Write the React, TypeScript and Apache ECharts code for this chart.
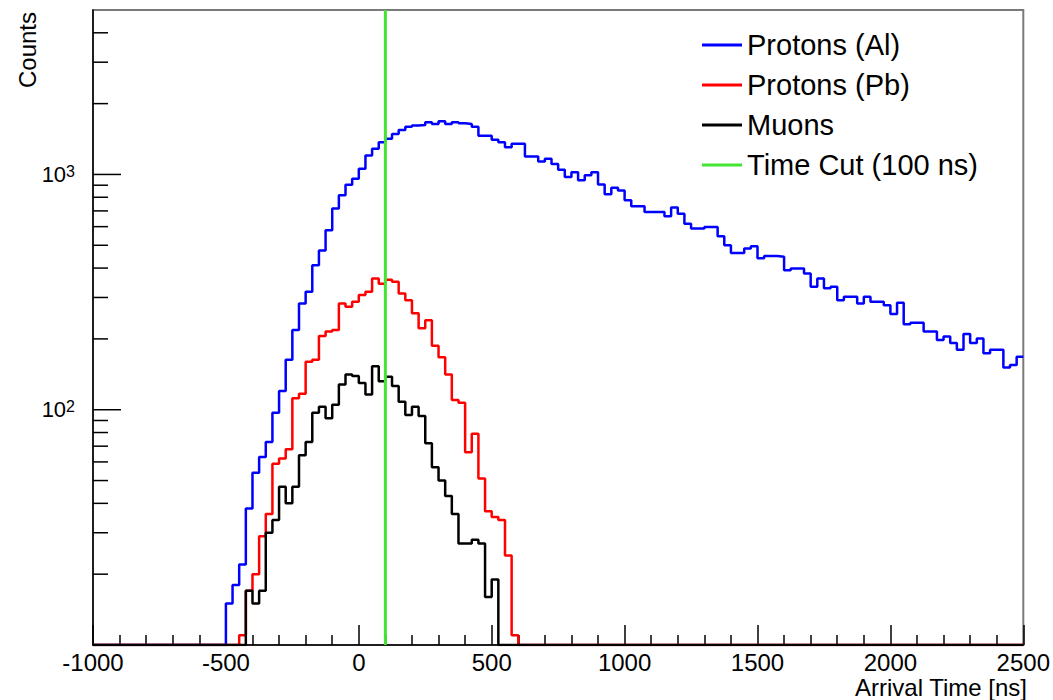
import React, { useEffect, useRef } from "react";
import * as echarts from "echarts";

const X_MIN = -1000;
const X_MAX = 2500;
const X_INTERVAL = 500;
const BIN_WIDTH = 25;
const Y_MIN = 10;
const Y_MAX = 5000;
const TIME_CUT = 100;

const FONT = "'Liberation Sans', Arial, Helvetica, sans-serif";

// Protons (Al): bins of 25 ns starting at -500 ns
const alStart = -500;
const alCounts = [
  15, 18, 22, 38, 54, 63, 73, 97, 120, 163,
  218, 283, 317, 411, 475, 579, 716, 815, 904, 959,
  1057, 1204, 1286, 1372, 1417, 1487, 1546, 1596, 1613, 1624,
  1667, 1640, 1684, 1640, 1667, 1650, 1640, 1596, 1462, 1462,
  1403, 1372, 1305, 1349, 1349, 1192, 1192, 1135, 1165, 1109,
  1047, 975, 1023, 944, 991, 1023, 907, 823, 879, 855,
  776, 732, 732, 692, 692, 692, 664, 723, 681, 618,
  589, 589, 598, 598, 546, 500, 464, 464, 484, 495,
  440, 450, 450, 447, 392, 398, 398, 379, 333, 361,
  328, 333, 292, 302, 302, 283, 302, 288, 288, 278,
  255, 285, 231, 234, 234, 215, 215, 198, 205, 192,
  180, 210, 192, 201, 174, 180, 180, 151, 155, 168,
];

// Protons (Pb): starting at -450 ns
const pbStart = -450;
const pbCounts = [
  11, 17, 20, 29, 36, 59, 62, 68, 112, 117,
  160, 163, 206, 215, 218, 283, 274, 288, 307, 317,
  361, 343, 357, 350, 312, 292, 257, 222, 240, 187,
  167, 141, 110, 107, 66, 79, 51, 37, 35, 34,
  24, 11,
];

// Muons: starting at -425 ns
const muStart = -425;
const muCounts = [
  17, 15, 17, 30, 34, 47, 40, 47, 64, 73,
  97, 103, 92, 105, 128, 141, 139, 130, 116, 153,
  132, 138, 126, 108, 95, 103, 94, 72, 57, 50,
  43, 36, 27, 27, 28, 27, 16, 19,
];

const seriesNames = ["Protons (Al)", "Protons (Pb)", "Muons", "Time Cut (100 ns)"];
const seriesColors = ["#0000ff", "#ff0000", "#000000", "#44e532"];

const yMajorTicks = [100, 1000];
const yMinorTicks = [20, 30, 40, 50, 60, 70, 80, 90, 200, 300, 400, 500, 600, 700, 800, 900, 2000, 3000, 4000];
const yTickLabels: Record<number, string> = { 100: "10{sup|2}", 1000: "10{sup|3}" };

function histSteps(start: number, counts: number[]): number[][] {
  const pts: number[][] = [];
  const nBins = (X_MAX - X_MIN) / BIN_WIDTH;
  for (let i = 0; i < nBins; i++) {
    const x = X_MIN + i * BIN_WIDTH;
    const idx = Math.round((x - start) / BIN_WIDTH);
    const c = idx >= 0 && idx < counts.length ? counts[idx] : 0;
    pts.push([x, Math.max(c, Y_MIN)]);
  }
  pts.push([X_MAX, pts[pts.length - 1][1]]);
  return pts;
}

export default function App() {
  const ref = useRef<HTMLDivElement>(null);
  useEffect(() => {
    if (!ref.current) return;
    const chart = echarts.init(ref.current, null, { renderer: "svg" });
    const histLine = (name: string, color: string, data: number[][]) => ({
      type: "line",
      name,
      data,
      step: "end",
      symbol: "none",
      showSymbol: false,
      color,
      lineStyle: { color, width: 2.5 },
      z: 3,
    });
    chart.setOption({
      animation: false,
      backgroundColor: "#ffffff",
      textStyle: { fontFamily: FONT },
      grid: {
        left: 93,
        right: 26,
        top: 10,
        bottom: 55,
        show: true,
        borderColor: "#7a7a7a",
        borderWidth: 2,
        backgroundColor: "transparent",
      },
      legend: {
        orient: "vertical",
        left: 697,
        top: 25,
        itemWidth: 40,
        itemHeight: 3,
        itemGap: 10,
        icon: "rect",
        data: seriesNames,
        textStyle: { fontSize: 29, lineHeight: 30, color: "#000", fontFamily: FONT },
      },
      xAxis: {
        type: "value",
        min: X_MIN,
        max: X_MAX,
        interval: X_INTERVAL,
        axisLine: { onZero: false, lineStyle: { color: "#000", width: 1.5 } },
        axisTick: { inside: true, length: 20, lineStyle: { color: "#000", width: 1.5 } },
        minorTick: { show: true, splitNumber: 5, length: 10, lineStyle: { color: "#000", width: 1.5 } },
        splitLine: { show: false },
        axisLabel: {
          fontSize: 24,
          color: "#000",
          margin: 5,
          fontFamily: FONT,
          formatter: (v: number) => String(v),
        },
      },
      yAxis: {
        type: "log",
        logBase: 10,
        min: Y_MIN,
        max: Y_MAX,
        axisLine: { show: true, onZero: false, lineStyle: { color: "#000", width: 1.5 } },
        axisTick: { show: false },
        splitLine: { show: false },
        axisLabel: {
          color: "#000",
          fontSize: 22,
          fontFamily: FONT,
          margin: 18,
          formatter: (v: number) => yTickLabels[Math.round(v)] ?? "",
          rich: {
            sup: { fontSize: 16, color: "#000", fontFamily: FONT, verticalAlign: "top" },
          },
        },
      },
      graphic: [
        {
          type: "text",
          x: 27,
          y: 50,
          rotation: Math.PI / 2,
          style: {
            text: "Counts",
            fontSize: 24,
            fontFamily: FONT,
            fill: "#000",
            align: "center",
            verticalAlign: "middle",
          },
        },
        {
          type: "text",
          x: 1027,
          y: 687,
          style: {
            text: "Arrival Time [ns]",
            fontSize: 24,
            fontFamily: FONT,
            fill: "#000",
            align: "right",
            verticalAlign: "middle",
          },
        },
      ],
      series: [
        histLine(seriesNames[0], seriesColors[0], histSteps(alStart, alCounts)),
        histLine(seriesNames[1], seriesColors[1], histSteps(pbStart, pbCounts)),
        histLine(seriesNames[2], seriesColors[2], histSteps(muStart, muCounts)),
        {
          type: "line",
          name: seriesNames[3],
          data: [
            [TIME_CUT, Y_MIN],
            [TIME_CUT, Y_MAX],
          ],
          symbol: "none",
          showSymbol: false,
          color: seriesColors[3],
          lineStyle: { color: seriesColors[3], width: 3 },
          z: 4,
        },
        {
          type: "custom",
          name: "yTicks",
          silent: true,
          z: 5,
          data: [
            ...yMajorTicks.map((v) => [X_MIN, v, 28]),
            ...yMinorTicks.map((v) => [X_MIN, v, 15]),
          ],
          encode: { x: 0, y: 1 },
          renderItem: (params: any, api: any) => {
            const p = api.coord([api.value(0), api.value(1)]);
            const len = api.value(2);
            return {
              type: "line",
              shape: { x1: p[0], y1: p[1], x2: p[0] + len, y2: p[1] },
              style: { stroke: "#000", lineWidth: 1.5 },
            };
          },
        },
      ],
    });
    return () => chart.dispose();
  }, []);
  return (
    <div
      ref={ref}
      style={{ position: "absolute", left: 0, top: 0, width: 1053, height: 700, background: "#fff" }}
    />
  );
}
